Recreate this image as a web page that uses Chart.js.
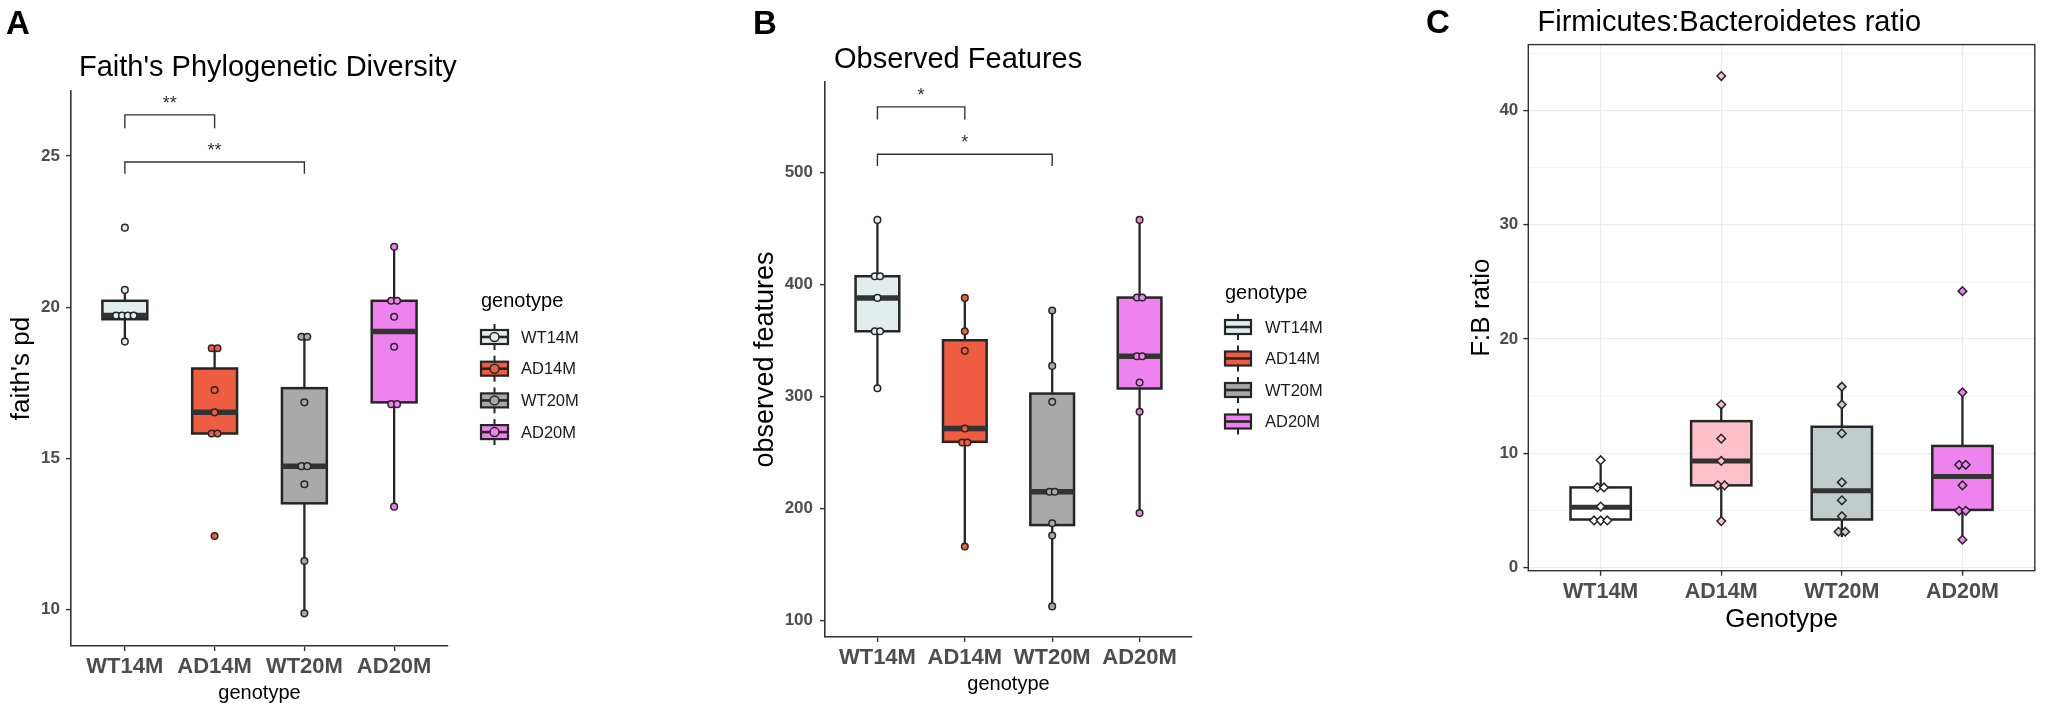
<!DOCTYPE html>
<html>
<head>
<meta charset="utf-8">
<title>Faith's PD, observed features and F:B ratio</title>
<script src="https://cdn.jsdelivr.net/npm/chart.js@4.4.1/dist/chart.umd.min.js"></script>
<style>
  body { margin: 0; background: #fff; }
  #wrap { position: relative; width: 2050px; height: 713px; }
  canvas { position: absolute; top: 0; }
</style>
</head>
<body>
<div id="wrap">
  <canvas id="chartA" width="700" height="713" style="left:0"></canvas>
  <canvas id="chartB" width="650" height="713" style="left:700px"></canvas>
  <canvas id="chartC" width="700" height="713" style="left:1350px"></canvas>
</div>
<script>
const genotypes = ['WT14M', 'AD14M', 'WT20M', 'AD20M'];

// Faith's phylogenetic diversity (box stats)
const faithLow = [18.86, 15.82, 9.87, 13.40];
const faithQ1 = [19.60, 15.82, 13.51, 16.85];
const faithMedian = [19.72, 16.52, 14.74, 19.19];
const faithQ3 = [20.21, 17.97, 17.32, 20.21];
const faithHigh = [20.57, 18.64, 19.02, 22.00];
const faithPoints = [
    [22.63, 20.57, 19.72, 19.72, 19.72, 19.72, 18.86],
    [18.64, 18.64, 17.26, 16.52, 15.82, 15.82, 12.43],
    [19.02, 19.02, 16.85, 14.74, 14.74, 14.14, 11.60, 9.87],
    [22.00, 20.21, 20.21, 19.68, 18.69, 16.79, 16.79, 13.40]
];
const faithTicks = [10, 15, 20, 25];
// [from, to, tip value, bar value, label value, label]
const faithBrackets = [[1, 2, 25.92, 26.36, 26.88, '**'], [1, 3, 24.41, 24.80, 25.32, '**']];

// Observed features
const obsLow = [307.6, 166.3, 112.8, 196.1];
const obsQ1 = [358.4, 259.7, 185.4, 307.3];
const obsMedian = [388.2, 271.6, 215.1, 336.1];
const obsQ3 = [407.5, 350.4, 302.8, 388.5];
const obsHigh = [457.8, 388.2, 376.9, 457.8];
const obsPoints = [
    [457.8, 407.5, 407.5, 388.2, 358.4, 358.4, 307.6],
    [388.2, 358.4, 340.9, 271.6, 259.1, 259.1, 166.3],
    [376.9, 327.5, 295.4, 215.1, 215.1, 187.1, 176.1, 112.8],
    [457.8, 388.5, 388.5, 336.1, 336.1, 312.6, 286.5, 196.1]
];
const obsTicks = [100, 200, 300, 400, 500];
const obsBrackets = [[1, 2, 547.4, 558.7, 572.9, '*'], [1, 3, 505.9, 516.4, 530.6, '*']];

// Firmicutes:Bacteroidetes ratio
const fbLow = [3.68, 4.06, 2.67, 2.43];
const fbQ1 = [4.20, 7.19, 4.20, 5.04];
const fbMedian = [5.28, 9.33, 6.72, 7.97];
const fbQ3 = [7.01, 12.81, 12.32, 10.64];
const fbHigh = [9.39, 14.26, 15.83, 15.33];
const fbPoints = [
    [9.39, 7.01, 7.01, 5.33, 4.12, 4.12, 4.12],
    [43.02, 14.26, 11.28, 9.33, 7.19, 7.19, 4.06],
    [15.83, 14.26, 11.74, 7.45, 5.88, 4.49, 3.13, 3.13],
    [24.19, 15.33, 8.99, 8.99, 7.19, 4.96, 4.96, 2.43]
];
const fbTicks = [0, 10, 20, 30, 40];

const fillsAB = ['#E0EEEE', '#EE5C42', '#A9A9A9', '#EE82EE'];
const fillsC = ['#FFFFFF', '#FFC0CB', '#C1CDCD', '#EE82EE'];

const FONT = '"Liberation Sans", Arial, Helvetica, sans-serif';
const INK = '#262626';

// tied values sit side by side, like the dot layer in the figure
function dodge(values, step) {
    const out = [];
    values.forEach(v => {
        const n = values.filter(w => w === v).length;
        const k = out.filter(o => o.y === v).length;
        out.push({ y: v, dx: (k - (n - 1) / 2) * step });
    });
    return out;
}

function makePanel(id, p) {
    const datasets = genotypes.map((g, i) => ({
        label: g,
        data: dodge(p.points[i], p.step).map(d => ({ x: i + 1 + d.dx, y: d.y })),
        pointStyle: p.pointStyle,
        pointRadius: p.pointRadius,
        pointBorderWidth: 1.5,
        pointBackgroundColor: p.fills[i],
        pointBorderColor: INK
    }));

    const boxes = {
        id: 'boxes',
        beforeDatasetsDraw(chart) {
            const { ctx, chartArea, scales: { x, y } } = chart;
            ctx.save();
            if (p.minorGrid) {
                const step = p.ticks[1] - p.ticks[0];
                ctx.strokeStyle = '#EFEFEF';
                ctx.lineWidth = 0.7;
                p.ticks.forEach(t => {
                    const m = t + step / 2;
                    if (m > y.max) return;
                    const py = y.getPixelForValue(m);
                    ctx.beginPath();
                    ctx.moveTo(chartArea.left, py);
                    ctx.lineTo(chartArea.right, py);
                    ctx.stroke();
                });
            }
            genotypes.forEach((g, i) => {
                const cx = x.getPixelForValue(i + 1);
                const half = x.getPixelForValue(i + 1.25) - cx;
                const top = y.getPixelForValue(p.q3[i]);
                const bot = y.getPixelForValue(p.q1[i]);
                ctx.strokeStyle = INK;
                ctx.lineWidth = 2.3;
                ctx.beginPath();
                ctx.moveTo(cx, y.getPixelForValue(p.high[i]));
                ctx.lineTo(cx, top);
                ctx.moveTo(cx, bot);
                ctx.lineTo(cx, y.getPixelForValue(p.low[i]));
                ctx.stroke();
                ctx.fillStyle = p.fills[i];
                ctx.fillRect(cx - half, top, 2 * half, bot - top);
                ctx.lineWidth = 2.5;
                ctx.strokeRect(cx - half, top, 2 * half, bot - top);
                const m = y.getPixelForValue(p.median[i]);
                ctx.strokeStyle = '#333';
                ctx.lineWidth = p.medianWidth;
                ctx.beginPath();
                ctx.moveTo(cx - half, m);
                ctx.lineTo(cx + half, m);
                ctx.stroke();
            });
            ctx.restore();
        }
    };

    const extras = {
        id: 'extras',
        afterDraw(chart) {
            const { ctx, chartArea, scales: { x, y } } = chart;
            ctx.save();
            ctx.strokeStyle = '#333';
            ctx.fillStyle = '#333';
            ctx.lineWidth = 1.4;
            (p.brackets || []).forEach(([a, b, tip, bar, lab, text]) => {
                const x1 = x.getPixelForValue(a), x2 = x.getPixelForValue(b);
                const yb = y.getPixelForValue(tip), yt = y.getPixelForValue(bar);
                ctx.beginPath();
                ctx.moveTo(x1, yb);
                ctx.lineTo(x1, yt);
                ctx.lineTo(x2, yt);
                ctx.lineTo(x2, yb);
                ctx.stroke();
                ctx.font = `18px ${FONT}`;
                ctx.textAlign = 'center';
                ctx.textBaseline = 'alphabetic';
                ctx.fillText(text, (x1 + x2) / 2, y.getPixelForValue(lab) + 10);
            });

            if (p.frame) {
                ctx.strokeStyle = '#333';
                ctx.lineWidth = 1.4;
                ctx.strokeRect(chartArea.left, chartArea.top,
                    chartArea.right - chartArea.left, chartArea.bottom - chartArea.top);
            }

            if (p.legend) {
                const L = p.legend;
                ctx.fillStyle = '#000';
                ctx.textAlign = 'left';
                ctx.textBaseline = 'middle';
                ctx.font = `20px ${FONT}`;
                ctx.fillText('genotype', L.x, L.titleY);
                genotypes.forEach((g, i) => {
                    const cy = L.y0 + i * L.gap;
                    const cx = L.x + L.w / 2;
                    ctx.strokeStyle = INK;
                    ctx.lineWidth = 2;
                    ctx.beginPath();
                    ctx.moveTo(cx, cy - 13);
                    ctx.lineTo(cx, cy + 13);
                    ctx.stroke();
                    ctx.fillStyle = p.fills[i];
                    ctx.fillRect(L.x, cy - 7, L.w, 14);
                    ctx.lineWidth = 2.2;
                    ctx.strokeRect(L.x, cy - 7, L.w, 14);
                    ctx.lineWidth = 2.6;
                    ctx.beginPath();
                    ctx.moveTo(L.x, cy);
                    ctx.lineTo(L.x + L.w, cy);
                    ctx.stroke();
                    if (L.dot) {
                        ctx.beginPath();
                        ctx.arc(cx, cy, 4.5, 0, Math.PI * 2);
                        ctx.fill();
                        ctx.lineWidth = 1.5;
                        ctx.stroke();
                    }
                    ctx.fillStyle = '#1a1a1a';
                    ctx.font = `16.5px ${FONT}`;
                    ctx.fillText(g, L.labelX, cy + 1);
                });
            }

            ctx.fillStyle = '#000';
            ctx.textAlign = 'left';
            ctx.textBaseline = 'alphabetic';
            ctx.font = `29px ${FONT}`;
            ctx.fillText(p.title, p.titleAt[0], p.titleAt[1]);
            ctx.font = `bold 33px ${FONT}`;
            ctx.fillText(p.letter, p.letterAt[0], p.letterAt[1]);
            ctx.restore();
        }
    };

    const a = p.area;
    new Chart(document.getElementById(id), {
        type: 'scatter',
        data: { datasets },
        options: {
            responsive: false,
            animation: false,
            events: [],
            layout: { padding: { top: a.top, right: a.right, left: 0, bottom: 0 } },
            plugins: { legend: { display: false }, tooltip: { enabled: false } },
            scales: {
                x: {
                    type: 'linear',
                    min: 0.4,
                    max: 4.6,
                    afterBuildTicks: s => { s.ticks = genotypes.map((g, i) => ({ value: i + 1 })); },
                    afterFit: s => { s.height = a.xH; },
                    ticks: {
                        callback: (v, i) => genotypes[i],
                        font: { family: FONT, size: p.xTickSize, weight: 'bold' },
                        color: '#4D4D4D',
                        padding: 3,
                        maxRotation: 0,
                        autoSkip: false
                    },
                    grid: {
                        drawOnChartArea: !!p.frame,
                        color: '#EBEBEB',
                        lineWidth: 1.2,
                        tickLength: 5,
                        tickColor: '#333',
                        tickWidth: 1.4
                    },
                    border: { display: !p.frame, color: '#333', width: 1.6 },
                    title: {
                        display: true,
                        text: p.xTitle,
                        color: '#000',
                        font: { family: FONT, size: p.xTitleSize },
                        padding: { top: 0, bottom: p.xTitlePad }
                    }
                },
                y: {
                    min: p.min,
                    max: p.max,
                    afterBuildTicks: s => { s.ticks = p.ticks.map(v => ({ value: v })); },
                    afterFit: s => { s.width = a.yW; },
                    ticks: {
                        font: { family: FONT, size: 17, weight: 'bold' },
                        color: '#4D4D4D',
                        padding: p.yTickPad
                    },
                    grid: {
                        drawOnChartArea: !!p.frame,
                        color: '#EBEBEB',
                        lineWidth: 1.2,
                        tickLength: 5,
                        tickColor: '#333',
                        tickWidth: 1.4
                    },
                    border: { display: !p.frame, color: '#333', width: 1.6 },
                    title: {
                        display: true,
                        text: p.yTitle,
                        color: '#000',
                        font: { family: FONT, size: p.yTitleSize },
                        padding: { top: p.yTitlePad, bottom: 0 }
                    }
                }
            }
        },
        plugins: [boxes, extras]
    });
}

makePanel('chartA', {
    low: faithLow, q1: faithQ1, median: faithMedian, q3: faithQ3, high: faithHigh,
    points: faithPoints, ticks: faithTicks, brackets: faithBrackets, fills: fillsAB,
    min: 8.79, max: 27.15, step: 0.065,
    pointStyle: 'circle', pointRadius: 3.3, medianWidth: 5.5,
    area: { top: 91, right: 252, yW: 71, xH: 67 },
    xTitle: 'genotype', xTitleSize: 20, xTitlePad: 8, xTickSize: 22,
    yTitle: "faith's pd", yTitleSize: 26, yTitlePad: 6, yTickPad: 6,
    title: "Faith's Phylogenetic Diversity", titleAt: [79, 76],
    letter: 'A', letterAt: [6, 34],
    legend: { x: 481, w: 27, titleY: 301, y0: 337, gap: 31.7, labelX: 521, dot: true }
});

makePanel('chartB', {
    low: obsLow, q1: obsQ1, median: obsMedian, q3: obsQ3, high: obsHigh,
    points: obsPoints, ticks: obsTicks, brackets: obsBrackets, fills: fillsAB,
    min: 85.5, max: 580.9, step: 0.06,
    pointStyle: 'circle', pointRadius: 3.3, medianWidth: 5.5,
    area: { top: 82, right: 158, yW: 125, xH: 76 },
    xTitle: 'genotype', xTitleSize: 20, xTitlePad: 17, xTickSize: 22,
    yTitle: 'observed features', yTitleSize: 27, yTitlePad: 49, yTickPad: 7,
    title: 'Observed Features', titleAt: [134, 68],
    letter: 'B', letterAt: [53, 34],
    legend: { x: 525, w: 26, titleY: 293, y0: 327, gap: 31.5, labelX: 565, dot: false }
});

makePanel('chartC', {
    low: fbLow, q1: fbQ1, median: fbMedian, q3: fbQ3, high: fbHigh,
    points: fbPoints, ticks: fbTicks, fills: fillsC,
    min: -0.28, max: 45.77, step: 0.055,
    pointStyle: 'rectRot', pointRadius: 4.3, medianWidth: 5,
    frame: true, minorGrid: true,
    area: { top: 44.6, right: 15.2, yW: 178.3, xH: 142.3 },
    xTitle: 'Genotype', xTitleSize: 26, xTitlePad: 78, xTickSize: 21.5,
    yTitle: 'F:B ratio', yTitleSize: 26, yTitlePad: 116, yTickPad: 5,
    title: 'Firmicutes:Bacteroidetes ratio', titleAt: [187.5, 31],
    letter: 'C', letterAt: [76, 33]
});
</script>
</body>
</html>
